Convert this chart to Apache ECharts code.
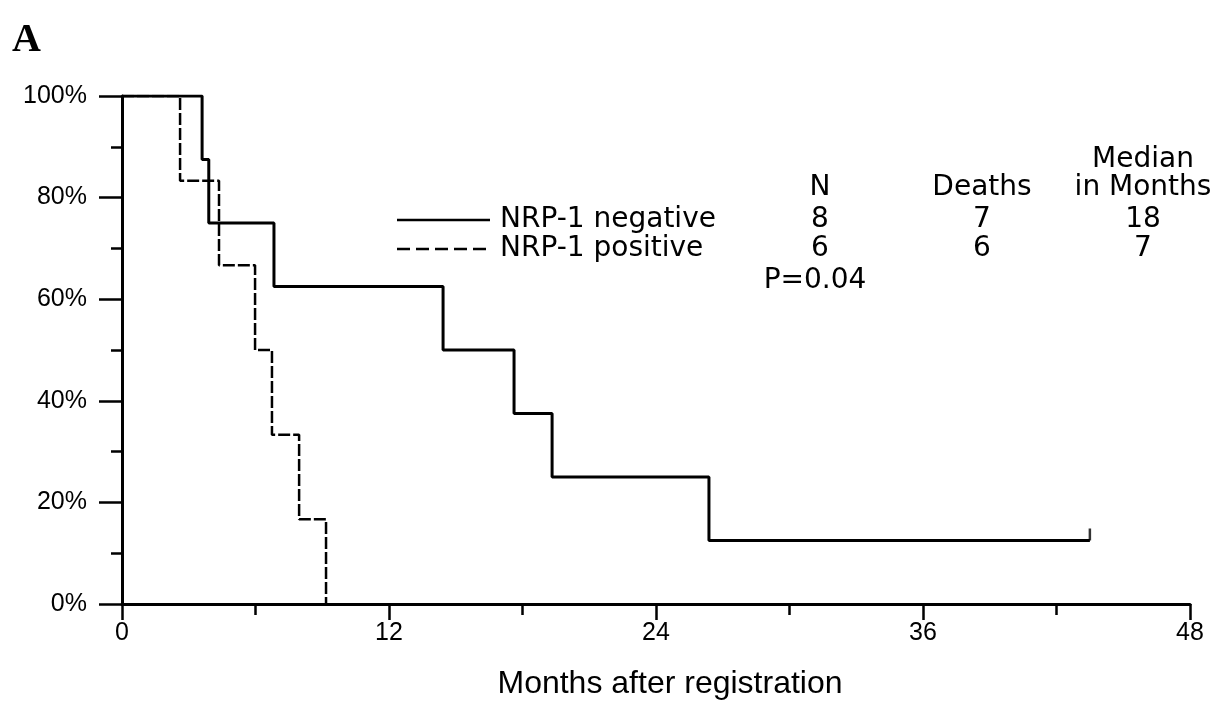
<!DOCTYPE html>
<html><head><meta charset="utf-8">
<script src="https://cdn.jsdelivr.net/npm/echarts@6/dist/echarts.min.js"></script>
<style>html,body{margin:0;padding:0;background:#fff}#c{width:1228px;height:725px}</style>
</head><body><div id="c"></div>
<script>
// Kaplan-Meier step data (months, % surviving)
const negTimes = [0, 3.6, 3.9, 6.83, 14.43, 17.62, 19.33, 26.38, 43.5];
const negSurv  = [100, 87.5, 75, 62.5, 50, 37.5, 25, 12.5, 12.5];
const posTimes = [0, 2.61, 4.36, 5.98, 6.74, 7.96, 9.17];
const posSurv  = [100, 83.3, 66.7, 50, 33.3, 16.7, 0];
const censorTimes = [43.5];
const censorSurv  = [12.5];
const groups  = ['NRP-1 negative', 'NRP-1 positive'];
const nValues = [8, 6];
const deaths  = [7, 6];
const medians = [18, 7];
const pText = 'P=0.04';
const xAxisName = 'Months after registration';

const chart = echarts.init(document.getElementById('c'), null, {renderer: 'canvas'});
const tf = 'DejaVu Sans';
const rowY = [220, 249];
const colN = 820, colD = 982, colM = 1143;
function txt(t, x, y, align, size, family, weight) {
  return {type: 'text', x: x, y: y, silent: true,
    style: {text: String(t), fill: '#000', fontSize: size || 28, fontFamily: family || tf,
      fontWeight: weight || 'normal', align: align || 'center', verticalAlign: 'middle',
      textAlign: align || 'center', textVerticalAlign: 'middle'}};
}
const graphics = [
  txt('A', 12, 41, 'left', 40, 'Liberation Serif', 'bold'),
  txt('Median', colM, 160),
  txt('N', colN, 188), txt('Deaths', colD, 188), txt('in Months', colM, 188),
  txt(pText, 815, 281),
  txt(xAxisName, 670, 684, 'center', 32, 'Liberation Sans'),
  {type: 'line', silent: true, shape: {x1: 397, y1: rowY[0], x2: 490, y2: rowY[0]},
    style: {stroke: '#000', lineWidth: 2.5}},
  {type: 'line', silent: true, shape: {x1: 397, y1: rowY[1], x2: 492, y2: rowY[1]},
    style: {stroke: '#000', lineWidth: 2.5, lineDash: [13, 6]}}
];
groups.forEach((g, i) => {
  graphics.push(txt(g, 500, rowY[i], 'left'));
  graphics.push(txt(nValues[i], colN, rowY[i]));
  graphics.push(txt(deaths[i], colD, rowY[i]));
  graphics.push(txt(medians[i], colM, rowY[i]));
});

chart.setOption({
  animation: false,
  backgroundColor: '#fff',
  grid: {left: 122, right: 38, top: 96, bottom: 121, containLabel: false},
  xAxis: {
    type: 'value', min: 0, max: 48, interval: 12,
    axisLine: {show: true, lineStyle: {color: '#000', width: 3}},
    axisTick: {show: true, length: 16, lineStyle: {color: '#000', width: 2.5}},
    minorTick: {show: true, splitNumber: 2, length: 11, lineStyle: {color: '#000', width: 2.5}},
    splitLine: {show: false},
    axisLabel: {color: '#000', fontSize: 25, fontFamily: 'Liberation Sans', margin: 17}
  },
  yAxis: {
    type: 'value', min: 0, max: 100, interval: 20,
    axisLine: {show: true, lineStyle: {color: '#000', width: 3}},
    axisTick: {show: true, length: 23, lineStyle: {color: '#000', width: 2.5}},
    minorTick: {show: true, splitNumber: 2, length: 11, lineStyle: {color: '#000', width: 2.5}},
    splitLine: {show: false},
    axisLabel: {color: '#000', fontSize: 25, fontFamily: 'Liberation Sans', margin: 35, formatter: '{value}%'}
  },
  series: [
    {name: groups[0], type: 'line', step: 'end', symbol: 'none',
      data: negTimes.map((t, i) => [t, negSurv[i]]),
      lineStyle: {color: '#000', width: 3}},
    {name: groups[1], type: 'line', step: 'end', symbol: 'none',
      data: posTimes.map((t, i) => [t, posSurv[i]]),
      lineStyle: {color: '#000', width: 2.5, type: [12, 3]}},
    {name: 'censored', type: 'scatter', symbol: 'rect', symbolSize: [2.5, 12], symbolOffset: [0, -6],
      itemStyle: {color: '#000'},
      data: censorTimes.map((t, i) => [t, censorSurv[i]])}
  ],
  graphic: graphics
});
</script></body></html>
